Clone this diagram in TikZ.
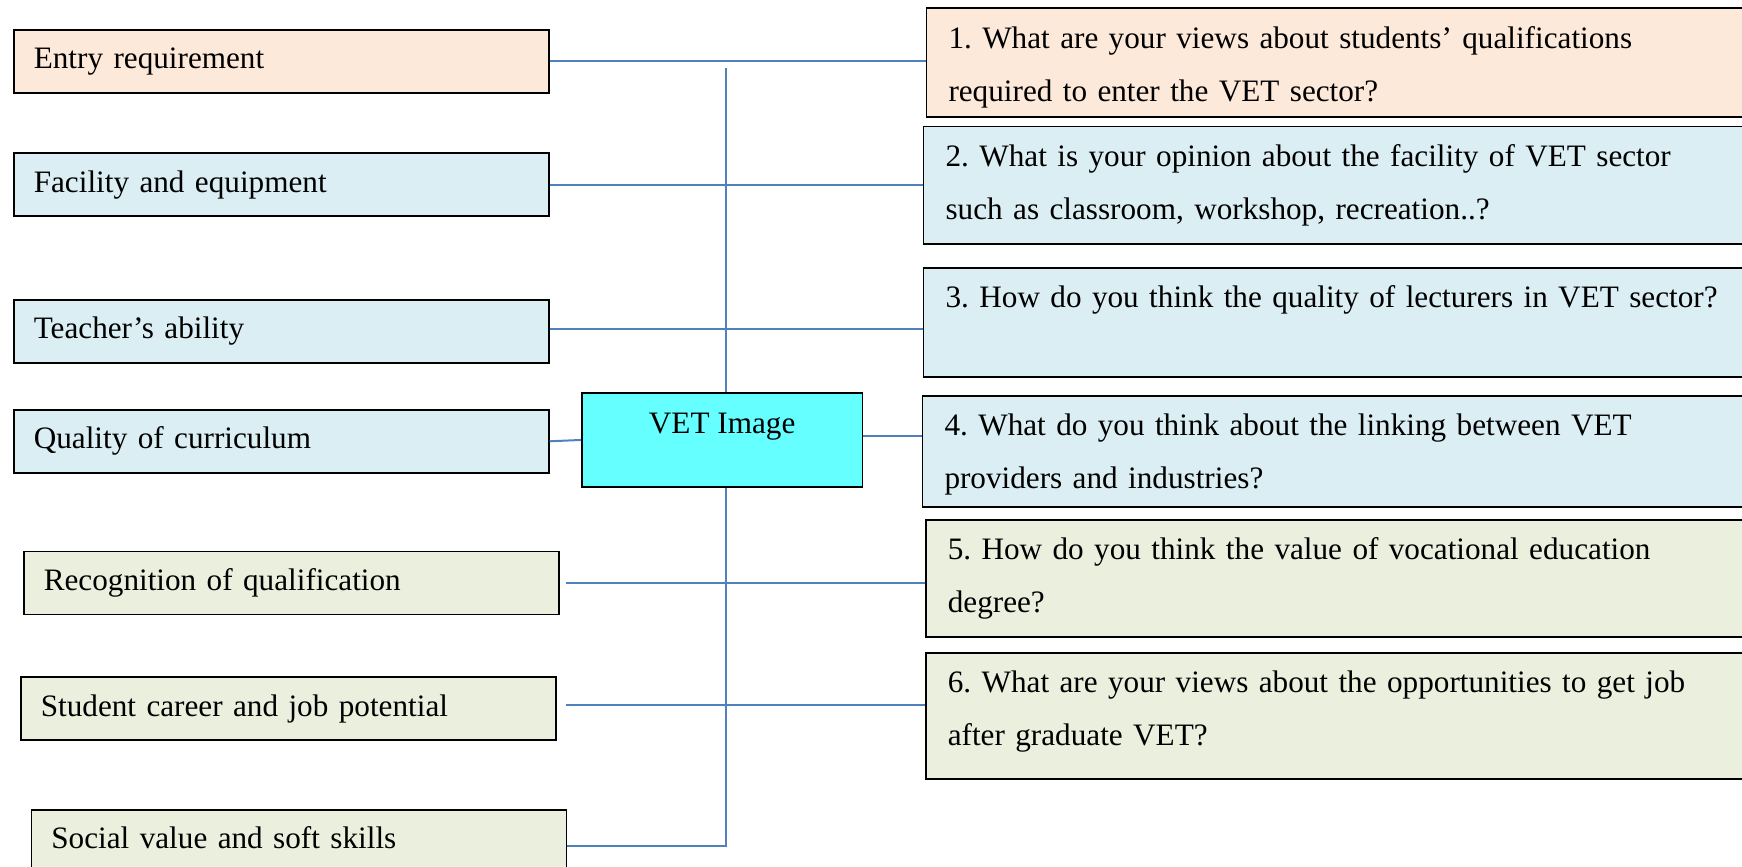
\documentclass[tikz,border=0pt]{standalone}
\usepackage{fontspec}
\setmainfont{Liberation Serif}
\usetikzlibrary{positioning}

\definecolor{peach}{HTML}{FDE9D9}
\definecolor{paleblue}{HTML}{DAEEF3}
\definecolor{palegreen}{HTML}{EBEFDE}
\definecolor{vetcyan}{HTML}{66FFFF}
\definecolor{linkblue}{HTML}{4F81BD}

\begin{document}
\begin{tikzpicture}[x=0.5pt, y=-0.5pt,
            every node/.style={font=\fontsize{15.6pt}{26.5pt}\selectfont\frenchspacing},
            topicbox/.style={draw, line width=0.8pt, anchor=north west, inner ysep=0pt, inner xsep=10pt,
                             text width=247.5pt, align=left, text height=19.5pt, text depth=12pt},
            questionbox/.style={draw, line width=0.8pt, anchor=north west, inner ysep=0pt, inner xsep=11pt,
                                text width=400pt, align=left, text height=20pt},
            link/.style={draw=linkblue, line width=1pt}]
            \useasboundingbox (0, 0) rectangle (1742, 867);
            \clip (0, 0) rectangle (1742, 867);

            \node[topicbox, fill=peach] (ent) at (13, 29) {Entry requirement};
            \node[topicbox, fill=paleblue] (fac) at (13, 152.3) {Facility and equipment};
            \node[topicbox, fill=paleblue] (tea) at (13, 299) {Teacher’s ability};
            \node[topicbox, fill=paleblue] (qua) at (13, 409) {Quality of curriculum};
            \node[topicbox, fill=palegreen] (rec) at (23, 550.7) {Recognition of qualification};
            \node[topicbox, fill=palegreen] (stu) at (20, 676.3) {Student career and job potential};
            \node[topicbox, fill=palegreen] (soc) at (30.6, 809) {Social value and soft skills};

            \node[draw, line width=0.8pt, fill=vetcyan, anchor=north west, inner sep=0pt,
                  minimum width=140.35pt, text height=20.35pt, text depth=26.5pt] (vet) at (581, 392.3) {VET Image};

            \node[questionbox, fill=peach, text depth=34.35pt] (q1) at (925.7, 7.3)
                {1. What are your views about students’ qualifications\\required to enter the VET sector?};
            \node[questionbox, fill=paleblue, text depth=38.65pt] (q2) at (922.8, 125.7)
                {2. What is your opinion about the facility of VET sector\\such as classroom, workshop, recreation..?};
            \node[questionbox, fill=paleblue, text depth=34.5pt] (q3) at (922.8, 267)
                {3. How do you think the quality of lecturers in VET sector?};
            \node[questionbox, fill=paleblue, text depth=35.5pt] (q4) at (921.7, 395)
                {4. What do you think about the linking between VET\\providers and industries?};
            \node[questionbox, fill=palegreen, text depth=38.5pt] (q5) at (925, 519)
                {5. How do you think the value of vocational education\\degree?};
            \node[questionbox, fill=palegreen, text depth=43pt] (q6) at (925, 652)
                {6. What are your views about the opportunities to get job\\after graduate VET?};

            \coordinate (vtop) at (725.5, 68);
            \coordinate (corner) at (725.5, 846);

            \draw[link] (ent.east) -- (ent.east -| q1.west);
            \draw[link] (fac.east) -- (fac.east -| q2.west);
            \draw[link] ([yshift=1.25pt]tea.east) -- ([yshift=1.25pt]tea.east -| q3.west);
            \draw[link] (qua.east) -- (vet.west);
            \draw[link] ([yshift=1.75pt]vet.east) -- ([yshift=1.75pt]vet.east -| q4.west);
            \draw[link] ([xshift=3pt]rec.east) -- (rec.east -| q5.west);
            \draw[link] ([xshift=4.5pt, yshift=1.9pt]stu.east) -- ([yshift=1.9pt]stu.east -| q6.west);
            \draw[link] (vtop) -- (vtop |- vet.north);
            \draw[link] (vtop |- vet.south) -- (corner) -- (corner -| soc.east);
        \end{tikzpicture}
\end{document}
